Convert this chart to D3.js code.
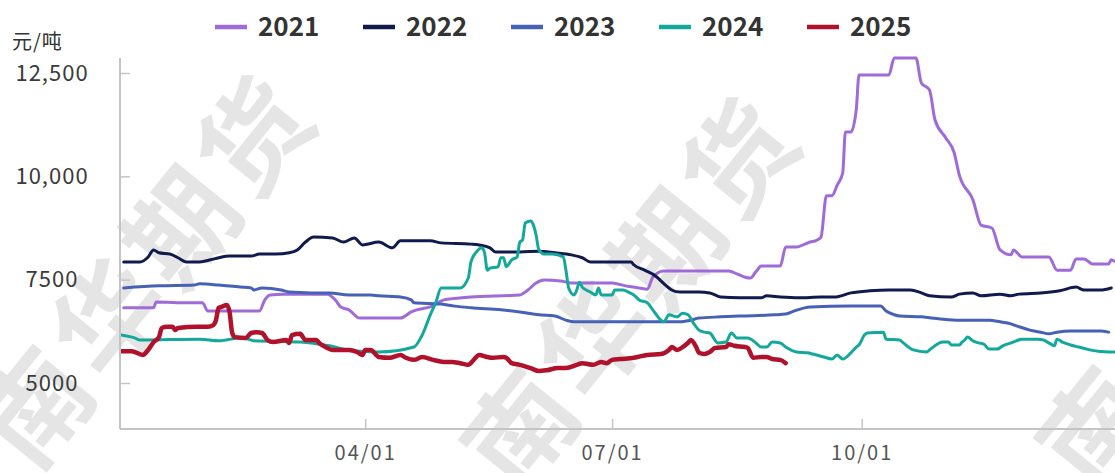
<!DOCTYPE html>
<html>
<head>
<meta charset="utf-8">
<script src="https://cdn.jsdelivr.net/npm/d3@7/dist/d3.min.js"></script>
<style>
  html, body { margin: 0; padding: 0; background: #fff; }
  svg { display: block; }
  text { font-family: "Noto Sans CJK SC", "Noto Sans", sans-serif; }
</style>
</head>
<body>
<svg id="chart" width="1115" height="473"></svg>
<script>
// ---- data (day of year: 0 = Jan 1; values in 元/吨) ----
const seriesNames = ["2021", "2022", "2023", "2024", "2025"];
const seriesColors = ["#9e6bd8", "#101a4c", "#4661b5", "#14a89d", "#b0122c"];

const days2021 = [1,12,13,25,30,32,51,53,55,60,76,79,81,84,88,103,107,109,114,119,121,129,147,150,153,156,162,166,181,186,191,194,196,200,224,227,230,232,234,236,243,245,249,252,254,256,258,260,262,264,266,267,269,271,272,283,285,293,295,298,300,304,307,309,314,317,321,324,328,329,332,342,345,350,352,355,358,364,365,366];
const vals2021 = [6820,6820,6960,6940,6940,6740,6740,7010,7130,7150,7150,7010,6840,6770,6570,6570,6720,6770,6840,7010,7030,7080,7130,7250,7420,7490,7470,7420,7420,7350,7300,7270,7560,7710,7710,7640,7560,7540,7690,7830,7830,8290,8290,8360,8410,8440,8530,9530,9530,9790,10080,11070,11070,11610,12450,12450,12860,12860,12260,12090,11370,10930,10590,10030,9430,8820,8750,8220,8100,8220,8050,8050,7730,7730,8000,8000,7880,7880,7980,7950];

const days2022 = [1,7,10,12,14,18,21,24,29,33,36,40,48,51,57,62,65,68,71,78,82,86,89,95,100,103,114,118,129,132,136,138,147,154,160,166,170,173,188,189,193,197,201,203,206,213,217,221,228,236,238,243,250,258,263,269,276,283,291,295,298,306,309,314,317,324,328,331,339,346,352,355,361,365];
const vals2022 = [7930,7930,8050,8220,8150,8120,8030,7930,7930,7980,8030,8070,8070,8120,8120,8150,8220,8410,8530,8510,8410,8510,8340,8410,8270,8440,8440,8390,8360,8340,8270,8170,8170,8190,8150,8100,8030,7930,7930,7860,7730,7590,7350,7250,7200,7200,7180,7080,7060,7060,7110,7080,7060,7080,7080,7180,7230,7250,7250,7180,7110,7080,7150,7180,7110,7150,7110,7150,7180,7230,7320,7250,7250,7300];

const days2023 = [1,14,27,29,36,44,48,49,52,59,62,70,77,84,92,95,103,107,108,118,123,129,140,147,154,160,164,167,206,210,213,221,228,241,245,248,254,269,280,282,285,287,295,302,309,320,324,328,331,335,339,342,345,350,357,361,364];
const vals2023 = [7300,7350,7370,7400,7370,7320,7300,7250,7300,7250,7200,7180,7180,7130,7130,7110,7080,7010,6940,6910,6860,6820,6770,6720,6650,6620,6520,6480,6480,6520,6570,6600,6620,6650,6670,6740,6840,6860,6860,6740,6650,6620,6600,6550,6520,6520,6480,6430,6360,6280,6230,6190,6230,6260,6260,6260,6230];

const days2024 = [0,5,7,29,36,44,48,49,66,70,73,77,83,88,95,108,111,114,116,118,125,128,129,131,133,134,135,136,139,140,141,142,144,146,147,148,149,151,152,153,154,156,159,163,164,165,167,168,169,170,173,175,176,177,181,182,185,187,189,191,194,196,199,200,202,205,207,209,211,213,215,217,220,223,225,227,231,234,236,238,240,243,245,249,253,255,259,262,264,266,269,271,272,274,275,281,282,287,288,292,297,298,303,305,306,309,310,311,312,314,316,318,320,323,325,328,330,332,338,340,342,344,345,347,350,353,356,360,366];
const vals2024 = [6160,6090,6040,6060,6020,6090,6040,6020,5990,5970,5940,5900,5800,5770,5750,5870,6160,6650,6940,7300,7300,7540,7930,8170,8270,8150,7730,7780,7810,8030,8030,7810,7980,8050,8410,8460,8870,8920,8820,8580,8220,8120,8120,8050,7730,7300,7130,7250,7440,7320,7200,7130,7300,7130,7130,7250,7250,7200,7130,7010,6940,6770,6520,6480,6650,6600,6690,6650,6450,6280,6230,6210,5970,5990,6210,6090,6090,5970,5870,5870,5990,5970,5870,5750,5730,5700,5630,5580,5680,5580,5730,5870,5920,6160,6210,6230,6060,6040,5990,5800,5750,5800,5990,5990,5920,5920,5990,6040,6110,6020,5970,5940,5820,5820,5900,5970,6020,6060,6060,6040,5970,5900,6060,5990,5920,5870,5820,5770,5750];

const days2025 = [0,4,8,10,12,14,15,17,19,20,21,28,32,34,35,36,37,39,40,41,42,46,48,50,52,54,56,61,62,63,66,68,72,73,76,78,84,87,89,90,92,95,99,103,105,108,111,115,119,122,125,128,130,132,135,137,141,142,144,147,151,154,157,161,164,168,170,174,177,179,181,184,189,194,199,202,203,205,207,209,210,212,213,215,217,219,223,224,226,230,231,233,236,238,240,243,245];
const vals2025 = [5770,5770,5680,5800,5990,6110,6330,6360,6360,6280,6330,6360,6360,6400,6520,6820,6840,6890,6720,6210,6110,6090,6210,6230,6210,6040,5990,6040,5970,6160,6190,6040,6040,5970,5850,5800,5800,5750,5680,5800,5800,5630,5610,5680,5610,5560,5630,5560,5510,5510,5480,5440,5560,5680,5630,5610,5630,5610,5480,5440,5360,5290,5310,5360,5360,5440,5480,5440,5510,5480,5560,5580,5610,5680,5700,5800,5870,5800,5870,5970,6040,5870,5730,5700,5750,5850,5870,5940,5900,5870,5850,5610,5630,5630,5580,5560,5480];

const yTickValues = [5000, 7500, 10000, 12500];
const yTickLabels = ["5000", "7500", "10,000", "12,500"];
const xTickDays = [90, 181, 273];
const xTickLabels = ["04/01", "07/01", "10/01"];
const unitLabel = "元/吨";
const watermarkChars = ["南", "华", "期", "货"];

// ---- layout ----
const svg = d3.select("#chart");
const W = 1115, H = 473;
const x = d3.scaleLinear().domain([0, 366]).range([121, 1114]);
const y = d3.scaleLinear().domain([5000, 12500]).range([383, 73]);
const axisColor = "#c4c4c4";
const plotLeft = 120, plotBottom = 429, plotTop = 58, plotRight = 1115;

// watermarks: each character placed along a rotated baseline
const wm = svg.append("g").attr("class", "watermarks");
const ang = -51, step = 116;
const ca = Math.cos(ang * Math.PI / 180), sa = Math.sin(ang * Math.PI / 180);
[[140, 268], [625, 290], [1200, 288]].forEach(([cx, cy]) => {
  watermarkChars.forEach((ch, i) => {
    const px = cx + (i - 1.5) * step * ca, py = cy + (i - 1.5) * step * sa;
    if (px < -20 || px > W + 20 || py < -20 || py > H + 20) return;
    wm.append("text")
      .attr("transform", `translate(${px},${py}) rotate(${ang})`)
      .attr("text-anchor", "middle")
      .attr("dominant-baseline", "central")
      .attr("font-size", 108)
      .attr("font-weight", 700)
      .attr("fill", "#000")
      .attr("fill-opacity", 0.1)
      .text(ch);
  });
});

// axes
const yAxis = d3.axisLeft(y).tickValues(yTickValues)
  .tickFormat((d, i) => yTickLabels[i]).tickSize(0);
const gy = svg.append("g").attr("transform", `translate(${plotLeft},0)`).call(yAxis);
gy.select(".domain").remove();
gy.selectAll(".tick line").remove();
gy.selectAll(".tick text")
  .attr("x", 52 - plotLeft).attr("text-anchor", "middle")
  .attr("font-size", 22).attr("letter-spacing", 1)
  .attr("fill", "#3a3a3a").style("font-family", '"Noto Sans CJK SC", sans-serif');
gy.selectAll(".tick").append("line")
  .attr("x1", 0).attr("x2", 10).attr("stroke", axisColor).attr("stroke-width", 1.5);

svg.append("line").attr("x1", plotLeft).attr("x2", plotLeft)
  .attr("y1", plotTop).attr("y2", plotBottom)
  .attr("stroke", axisColor).attr("stroke-width", 2);

const xAxis = d3.axisBottom(x).tickValues(xTickDays)
  .tickFormat((d, i) => xTickLabels[i]).tickSize(0);
const gx = svg.append("g").attr("transform", `translate(0,${plotBottom})`).call(xAxis);
gx.select(".domain").remove();
gx.selectAll(".tick line").remove();
gx.selectAll(".tick text")
  .attr("y", 31).attr("dy", "0")
  .attr("font-size", 20).attr("letter-spacing", 2)
  .attr("fill", "#555").style("font-family", '"Noto Sans CJK SC", sans-serif');
gx.selectAll(".tick").append("line")
  .attr("y1", 0).attr("y2", -10).attr("stroke", axisColor).attr("stroke-width", 1.5);
svg.append("line").attr("x1", plotLeft).attr("x2", plotRight)
  .attr("y1", plotBottom).attr("y2", plotBottom)
  .attr("stroke", axisColor).attr("stroke-width", 2);

svg.append("text").attr("x", 12).attr("y", 49)
  .attr("font-size", 20).attr("letter-spacing", 1).attr("fill", "#333")
  .text(unitLabel);

// series
const seriesData = [
  d3.zip(days2021, vals2021),
  d3.zip(days2022, vals2022),
  d3.zip(days2023, vals2023),
  d3.zip(days2024, vals2024),
  d3.zip(days2025, vals2025)
];
const line = d3.line().x(d => x(d[0])).y(d => y(d[1])).curve(d3.curveMonotoneX);
const widths = [3, 3, 3, 3, 4.5];
svg.append("clipPath").attr("id", "clip")
  .append("rect").attr("x", plotLeft + 1).attr("y", 0).attr("width", 1200).attr("height", plotBottom - 1);
const gl = svg.append("g").attr("clip-path", "url(#clip)");
seriesData.forEach((data, i) => {
  gl.append("path").datum(data)
    .attr("d", line)
    .attr("fill", "none")
    .attr("stroke", seriesColors[i])
    .attr("stroke-width", widths[i])
    .attr("stroke-linejoin", "round")
    .attr("stroke-linecap", "round");
});

// legend
const lg = svg.append("g");
seriesNames.forEach((name, i) => {
  const x0 = 215 + i * 148;
  lg.append("line").attr("x1", x0).attr("x2", x0 + 32)
    .attr("y1", 27).attr("y2", 27)
    .attr("stroke", seriesColors[i]).attr("stroke-width", 4.5);
  lg.append("text").attr("x", x0 + 43).attr("y", 36)
    .attr("font-size", 26).attr("font-weight", 700).attr("fill", "#333")
    .text(name);
});
</script>
</body>
</html>
